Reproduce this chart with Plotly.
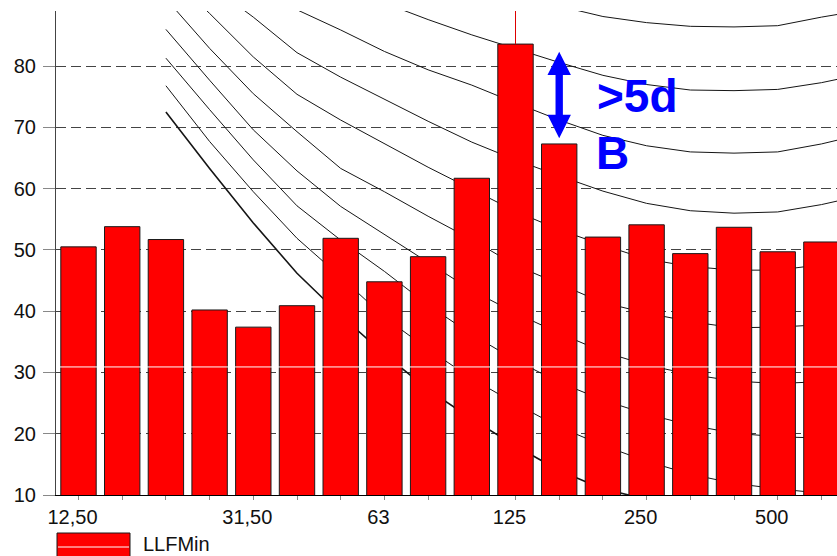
import plotly.graph_objects as go

FONT = "Arial, 'Liberation Sans', Helvetica, sans-serif"

# ---- data -----------------------------------------------------------------
bands = ["12,5", "16", "20", "25", "31,5", "40", "50", "63", "80", "100",
         "125", "160", "200", "250", "315", "400", "500", "630", "800"]
tick_text = ["12,50", "", "", "", "31,50", "", "", "63", "", "", "125", "",
             "", "250", "", "", "500", ""]
series_name = "LLFMin"
llf_min = [50.5, 53.8, 51.7, 40.2, 37.4, 40.9, 51.9, 44.8, 48.9, 61.7,
           83.6, 67.3, 52.1, 54.1, 49.4, 53.7, 49.7, 51.3]

# contour curves, 20 Hz .. 800 Hz
contour_bands = bands[2:]
curve_0 = [72.5, 63.3, 54.4, 46.2, 39.3, 33.0, 27.2, 22.4, 18.0, 14.0, 11.0, 9.3, 7.0, 5.5, 4.5, 4.0, 3.5]
curve_1 = [76.8, 67.7, 59.5, 51.9, 45.6, 39.0, 33.8, 29.0, 24.9, 21.1, 18.1, 15.5, 13.4, 11.9, 11.0, 10.3, 9.9]
curve_2 = [81.3, 72.9, 64.7, 57.2, 51.6, 46.5, 41.0, 36.2, 32.0, 28.4, 25.5, 23.2, 21.4, 20.1, 19.5, 19.3, 19.6]
curve_3 = [86.0, 77.7, 69.6, 62.9, 57.1, 52.5, 48.0, 43.4, 39.7, 36.4, 33.4, 31.2, 29.7, 28.6, 28.2, 28.5, 29.2]
curve_4 = [91.0, 82.9, 75.5, 69.3, 63.3, 59.5, 55.5, 51.7, 47.5, 44.4, 41.4, 39.7, 38.3, 37.3, 37.4, 37.8, 38.5]
curve_5 = [95.4, 88.6, 81.5, 75.4, 71.2, 67.3, 63.5, 59.9, 56.3, 53.3, 50.8, 48.5, 47.3, 46.7, 46.7, 47.6, 48.8]
curve_6 = [99.8, 93.3, 88.0, 82.2, 78.2, 74.6, 71.0, 67.6, 64.7, 62.1, 59.6, 57.6, 56.4, 56.0, 56.2, 57.4, 59.0]
curve_7 = [104.0, 98.5, 93.8, 89.2, 85.9, 82.4, 79.4, 76.9, 74.0, 71.2, 68.7, 67.0, 66.0, 65.8, 66.0, 67.3, 69.0]
curve_8 = [108.0, 104.5, 100.5, 97.0, 93.5, 90.3, 87.6, 85.1, 82.8, 80.6, 78.5, 77.0, 76.1, 76.0, 76.2, 77.3, 78.8]
curve_9 = [118.0, 114.5, 110.5, 107.0, 103.5, 100.5, 97.5, 94.5, 92.0, 89.8, 88.1, 87.1, 86.5, 86.4, 86.6, 88.0, 89.2]
curves = [curve_0, curve_1, curve_2, curve_3, curve_4, curve_5, curve_6, curve_7, curve_8, curve_9]

y_ticks = [10, 20, 30, 40, 50, 60, 70, 80]
white_line_level = 30.9
marker_band = "125"
arrow_upper_band, arrow_lower_band = "125", "160"
note_lines = [">5d", "B"]

# ---- geometry helpers -----------------------------------------------------
W, H = 837, 556
ML, MR, MT, MB = 56, 0, 11, 61
PW, PH = W - ML - MR, H - MT - MB
XR = [-0.515, -0.515 + PW / 43.7]
YR = [10, 89]


def paper_x(px):
    return (px - ML) / PW


def paper_y(py):
    return (H - MB - py) / PH


x_bar = list(range(len(llf_min)))
x_curve = [bands.index(b) for b in contour_bands]

fig = go.Figure()
for i, c in enumerate(curves):
    fig.add_trace(go.Scatter(
        x=x_curve, y=c, mode="lines",
        line=dict(color="#151515", width=1.6 if i == 0 else 1.0),
        hoverinfo="skip", showlegend=False, xaxis="x", yaxis="y"))

fig.add_trace(go.Bar(
    x=x_bar, y=llf_min, name=series_name, width=0.81,
    marker=dict(color="#ff0000", line=dict(color="#1a1a1a", width=1)),
    xaxis="x2", yaxis="y2", showlegend=False))

shapes = []
# white horizontal line across the bars
shapes.append(dict(type="line", xref="x", yref="y", x0=XR[0], x1=XR[1],
                   y0=white_line_level, y1=white_line_level,
                   line=dict(color="white", width=1), layer="above"))
# red marker line above the 125 Hz bar
mi = bands.index(marker_band)
shapes.append(dict(type="line", xref="x", yref="y", x0=mi, x1=mi,
                   y0=llf_min[mi], y1=YR[1],
                   line=dict(color="#dd0000", width=1), layer="above"))
# blue double arrow between the 125 Hz and 160 Hz levels, drawn at 160 Hz
ai = bands.index(arrow_lower_band)
top_tip = llf_min[bands.index(arrow_upper_band)] - 1.25
bot_tip = llf_min[ai] + 0.95
head_h = 3.8
hw, sw = 0.268, 0.084
p = [(ai, top_tip), (ai + hw, top_tip - head_h), (ai + sw, top_tip - head_h),
     (ai + sw, bot_tip + head_h), (ai + hw, bot_tip + head_h), (ai, bot_tip),
     (ai - hw, bot_tip + head_h), (ai - sw, bot_tip + head_h),
     (ai - sw, top_tip - head_h), (ai - hw, top_tip - head_h)]
path = "M " + " L ".join(f"{x:.4f},{y:.3f}" for x, y in p) + " Z"
shapes.append(dict(type="path", xref="x", yref="y", path=path,
                   fillcolor="#0000ff", line=dict(width=0), layer="above"))
# legend swatch
shapes.append(dict(type="rect", xref="paper", yref="paper",
                   x0=paper_x(57), x1=paper_x(130), y0=paper_y(533), y1=paper_y(566),
                   fillcolor="#ff0000", line=dict(color="#1a1a1a", width=1)))
shapes.append(dict(type="line", xref="paper", yref="paper",
                   x0=paper_x(58), x1=paper_x(129), y0=paper_y(547), y1=paper_y(547),
                   line=dict(color="white", width=1)))

annotations = [
    dict(text=note_lines[0], xref="paper", yref="paper", x=paper_x(595), y=paper_y(96),
         xanchor="left", yanchor="middle", showarrow=False,
         font=dict(family=FONT, size=46, color="#0000ff", weight="bold")),
    dict(text=note_lines[1], xref="paper", yref="paper", x=paper_x(594), y=paper_y(153),
         xanchor="left", yanchor="middle", showarrow=False,
         font=dict(family=FONT, size=46, color="#0000ff", weight="bold")),
    dict(text=series_name, xref="paper", yref="paper", x=paper_x(140.5), y=paper_y(544),
         xanchor="left", yanchor="middle", showarrow=False,
         font=dict(family=FONT, size=20, color="#111")),
]

fig.update_layout(
    width=W, height=H,
    margin=dict(l=ML, r=MR, t=MT, b=MB, pad=0),
    paper_bgcolor="white", plot_bgcolor="white",
    showlegend=False,
    font=dict(family=FONT, size=20, color="#111"),
    xaxis=dict(range=XR, tickmode="array", tickvals=x_bar, ticktext=tick_text,
               ticks="outside", ticklen=4, tickcolor="#888", tickwidth=1,
               showgrid=False, zeroline=False, showline=True,
               linecolor="#000", linewidth=1, ticklabelshift=-6,
               tickfont=dict(family=FONT, size=20, color="#111")),
    yaxis=dict(range=YR, tickmode="array", tickvals=y_ticks,
               ticks="outside", ticklen=12, tickcolor="#888", tickwidth=1,
               ticklabelstandoff=3,
               showgrid=True, gridcolor="#444", gridwidth=1, griddash="10px,5px",
               zeroline=False, showline=True, linecolor="#444", linewidth=1,
               tickfont=dict(family=FONT, size=20, color="#111")),
    xaxis2=dict(range=XR, overlaying="x", anchor="y2", visible=False),
    yaxis2=dict(range=YR, overlaying="y", anchor="x2", visible=False),
    shapes=shapes, annotations=annotations,
)

# the page's default 8px body margin would shift the figure; remove it
fig.write_html("out.html",
               config={"displayModeBar": False, "staticPlot": True},
               post_script="document.body.style.margin='0px';"
                           "document.body.style.overflow='hidden';")
